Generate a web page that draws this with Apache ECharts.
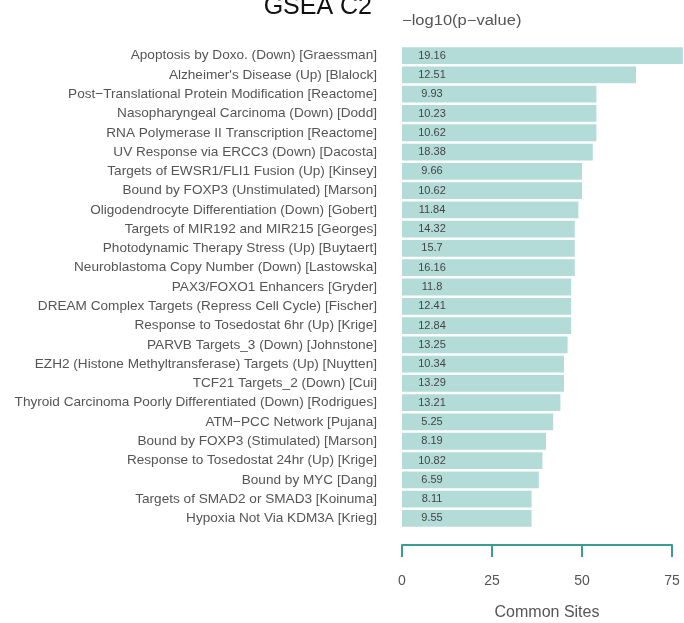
<!DOCTYPE html>
<html>
<head>
<meta charset="utf-8">
<script src="https://cdn.jsdelivr.net/npm/echarts@6/dist/echarts.min.js"></script>
<style>
  html, body { margin: 0; padding: 0; background: #fff; }
  #chart { width: 684px; height: 623px; }
</style>
</head>
<body>
<div id="chart"></div>
<script>
// GSEA C2 gene sets: overlap size (bar length) and enrichment significance (bar label)
const geneSets = [
  'Apoptosis by Doxo. (Down) [Graessman]',
  "Alzheimer's Disease (Up) [Blalock]",
  'Post\u2212Translational Protein Modification [Reactome]',
  'Nasopharyngeal Carcinoma (Down) [Dodd]',
  'RNA Polymerase II Transcription [Reactome]',
  'UV Response via ERCC3 (Down) [Dacosta]',
  'Targets of EWSR1/FLI1 Fusion (Up) [Kinsey]',
  'Bound by FOXP3 (Unstimulated) [Marson]',
  'Oligodendrocyte Differentiation (Down) [Gobert]',
  'Targets of MIR192 and MIR215 [Georges]',
  'Photodynamic Therapy Stress (Up) [Buytaert]',
  'Neuroblastoma Copy Number (Down) [Lastowska]',
  'PAX3/FOXO1 Enhancers [Gryder]',
  'DREAM Complex Targets (Repress Cell Cycle) [Fischer]',
  'Response to Tosedostat 6hr (Up) [Krige]',
  'PARVB Targets_3 (Down) [Johnstone]',
  'EZH2 (Histone Methyltransferase) Targets (Up) [Nuytten]',
  'TCF21 Targets_2 (Down) [Cui]',
  'Thyroid Carcinoma Poorly Differentiated (Down) [Rodrigues]',
  'ATM\u2212PCC Network [Pujana]',
  'Bound by FOXP3 (Stimulated) [Marson]',
  'Response to Tosedostat 24hr (Up) [Krige]',
  'Bound by MYC [Dang]',
  'Targets of SMAD2 or SMAD3 [Koinuma]',
  'Hypoxia Not Via KDM3A [Krieg]'
];

const commonSites = [78, 65, 54, 54, 54, 53, 50, 50, 49, 48, 48, 48, 47, 47, 47, 46, 45, 45, 44, 42, 40, 39, 38, 36, 36];

const negLog10P = ['19.16', '12.51', '9.93', '10.23', '10.62', '18.38', '9.66', '10.62', '11.84', '14.32',
  '15.7', '16.16', '11.8', '12.41', '12.84', '13.25', '10.34', '13.29', '13.21', '5.25',
  '8.19', '10.82', '6.59', '8.11', '9.55'];

const xTicks = [0, 25, 50, 75];

const teal = '#3a9d93';
const barFill = '#b3dcd9';
const font = 'Liberation Sans, Arial, Helvetica, sans-serif';

const chart = echarts.init(document.getElementById('chart'), null, { renderer: 'canvas' });

chart.setOption({
  animation: false,
  backgroundColor: '#ffffff',
  grid: { left: 402, right: 12, top: 46, bottom: 95, containLabel: false, outerBoundsMode: 'none' },
  graphic: [
    {
      type: 'text', x: 372, y: 7,
      style: { text: 'GSEA C2', font: '25px ' + font, fill: '#111', align: 'right', verticalAlign: 'middle' }
    },
    {
      type: 'text', x: 402, y: 21, scaleX: 1.18, originX: 0,
      style: { text: '\u2212log10(p\u2212value)', font: '14px ' + font, fill: '#555', align: 'left', verticalAlign: 'middle' }
    }
  ],
  xAxis: {
    type: 'value',
    min: xTicks[0],
    max: xTicks[xTicks.length - 1],
    interval: 25,
    offset: 17,
    splitLine: { show: false },
    axisLine: { show: true, lineStyle: { color: teal, width: 2 } },
    axisTick: { show: true, length: 12, lineStyle: { color: teal, width: 2 } },
    axisLabel: { margin: 29, color: '#555', fontSize: 14, fontFamily: font },
    name: 'Common Sites',
    nameLocation: 'middle',
    nameGap: 60,
    nameTextStyle: { color: '#555', fontSize: 16, fontFamily: font, padding: [0, 0, 0, 20] }
  },
  yAxis: {
    type: 'category',
    data: geneSets,
    inverse: true,
    axisLine: { show: false },
    axisTick: { show: false },
    splitLine: { show: false },
    axisLabel: { margin: 25, color: '#555', fontSize: 13.6, fontFamily: font }
  },
  series: [{
    type: 'bar',
    data: commonSites,
    clip: false,
    barCategoryGap: '13%',
    itemStyle: { color: barFill },
    label: {
      show: true,
      position: [30, '50%'],
      align: 'center',
      verticalAlign: 'middle',
      color: '#444',
      fontSize: 11,
      fontFamily: font,
      formatter: p => negLog10P[p.dataIndex]
    }
  }]
});
</script>
</body>
</html>
